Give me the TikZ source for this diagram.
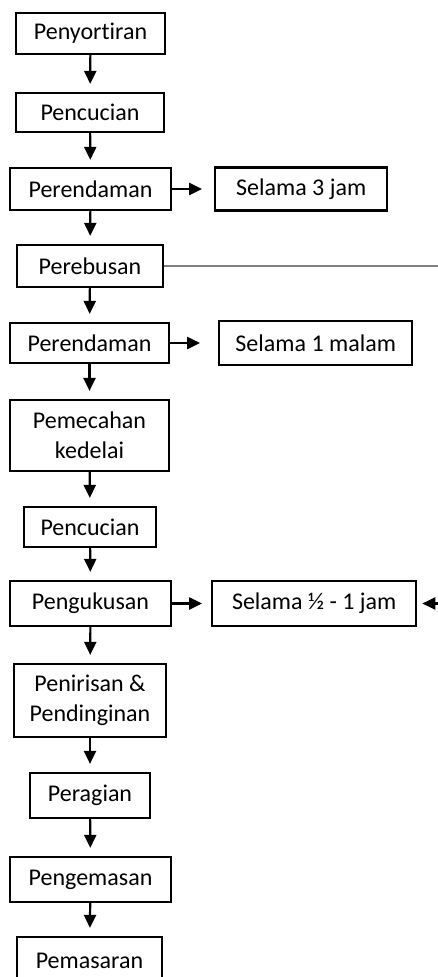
\documentclass[tikz,border=0pt]{standalone}
\usepackage{fontspec}
\setmainfont{Carlito}[Ligatures=NoCommon]
\usepackage{tikz}
\usetikzlibrary{arrows.meta,positioning}

\begin{document}
\begin{tikzpicture}[
    x=1pt, y=-1pt,
    box/.style={rectangle, draw=black, line width=2.2pt, align=center, inner sep=0pt, font=\fontsize{24}{30}\selectfont},
    arrow/.style={-{Triangle[length=13pt,width=12pt]}, line width=2.2pt},
    link/.style={draw=gray, line width=1.5pt}
]
\useasboundingbox (0,0) rectangle (438,977);

\node[box, minimum width=149pt, minimum height=41pt] (peny) at (90.5,33.5) {Penyortiran};
\node[box, minimum width=148pt, minimum height=39pt] (cuci1) at (90,112.5) {Pencucian};
\node[box, minimum width=161pt, minimum height=42pt] (rendam1) at (90.5,189) {Perendaman};
\node[box, minimum width=146pt, minimum height=42pt] (rebus) at (90,266) {Perebusan};
\node[box, minimum width=159pt, minimum height=40pt] (rendam2) at (89.5,343) {Perendaman};
\node[box, minimum width=159pt, minimum height=71pt] (pecah) at (89.5,435.5) {Pemecahan\\kedelai};
\node[box, minimum width=132pt, minimum height=40pt] (cuci2) at (90,527) {Pencucian};
\node[box, minimum width=161pt, minimum height=45pt] (kukus) at (90.5,603.5) {Pengukusan};
\node[box, minimum width=152pt, minimum height=73pt] (tiris) at (90,700.5) {Penirisan \&\\Pendinginan};
\node[box, minimum width=120pt, minimum height=45pt] (ragi) at (90,795.5) {Peragian};
\node[box, minimum width=161pt, minimum height=45pt] (kemas) at (90.5,879.5) {Pengemasan};
\node[box, minimum width=145pt, minimum height=48pt] (pasar) at (89.5,961) {Pemasaran};

\node[box, minimum width=172pt, minimum height=43pt, right=42pt of rendam1] (lama3) {Selama 3 jam};
\node[box, minimum width=193pt, minimum height=44pt, right=48pt of rendam2] (lama1) {Selama 1 malam};
\node[box, minimum width=204pt, minimum height=45pt, right=39pt of kukus] (lamahalf) {Selama ½ - 1 jam};

\coordinate (tepiA) at (445,266);
\coordinate (tepiB) at (445,603.5);

\draw[arrow, shorten >=8pt] (peny) -- (cuci1);
\draw[arrow, shorten >=7pt] (cuci1) -- (rendam1);
\draw[arrow, shorten >=8pt] (rendam1) -- (rebus);
\draw[arrow, shorten >=8pt] (rebus) -- (rendam2);
\draw[arrow, shorten >=8pt] (rendam2) -- (pecah);
\draw[arrow, shorten >=8pt] (pecah) -- (cuci2);
\draw[arrow, shorten >=8pt] (cuci2) -- (kukus);
\draw[arrow, shorten >=8pt] (kukus) -- (tiris);
\draw[arrow, shorten >=8pt] (tiris) -- (ragi);
\draw[arrow, shorten >=8pt] (ragi) -- (kemas);
\draw[arrow, shorten >=8pt] (kemas) -- (pasar);

\draw[arrow, shorten >=12pt] (rendam1) -- (lama3);
\draw[arrow, shorten >=18pt] (rendam2) -- (lama1);
\draw[arrow, shorten >=9pt] (kukus) -- (lamahalf);
\draw[arrow, shorten >=5pt] (tepiB) -- (lamahalf);
\draw[link] (rebus.east) -- (tepiA);

\end{tikzpicture}
\end{document}
